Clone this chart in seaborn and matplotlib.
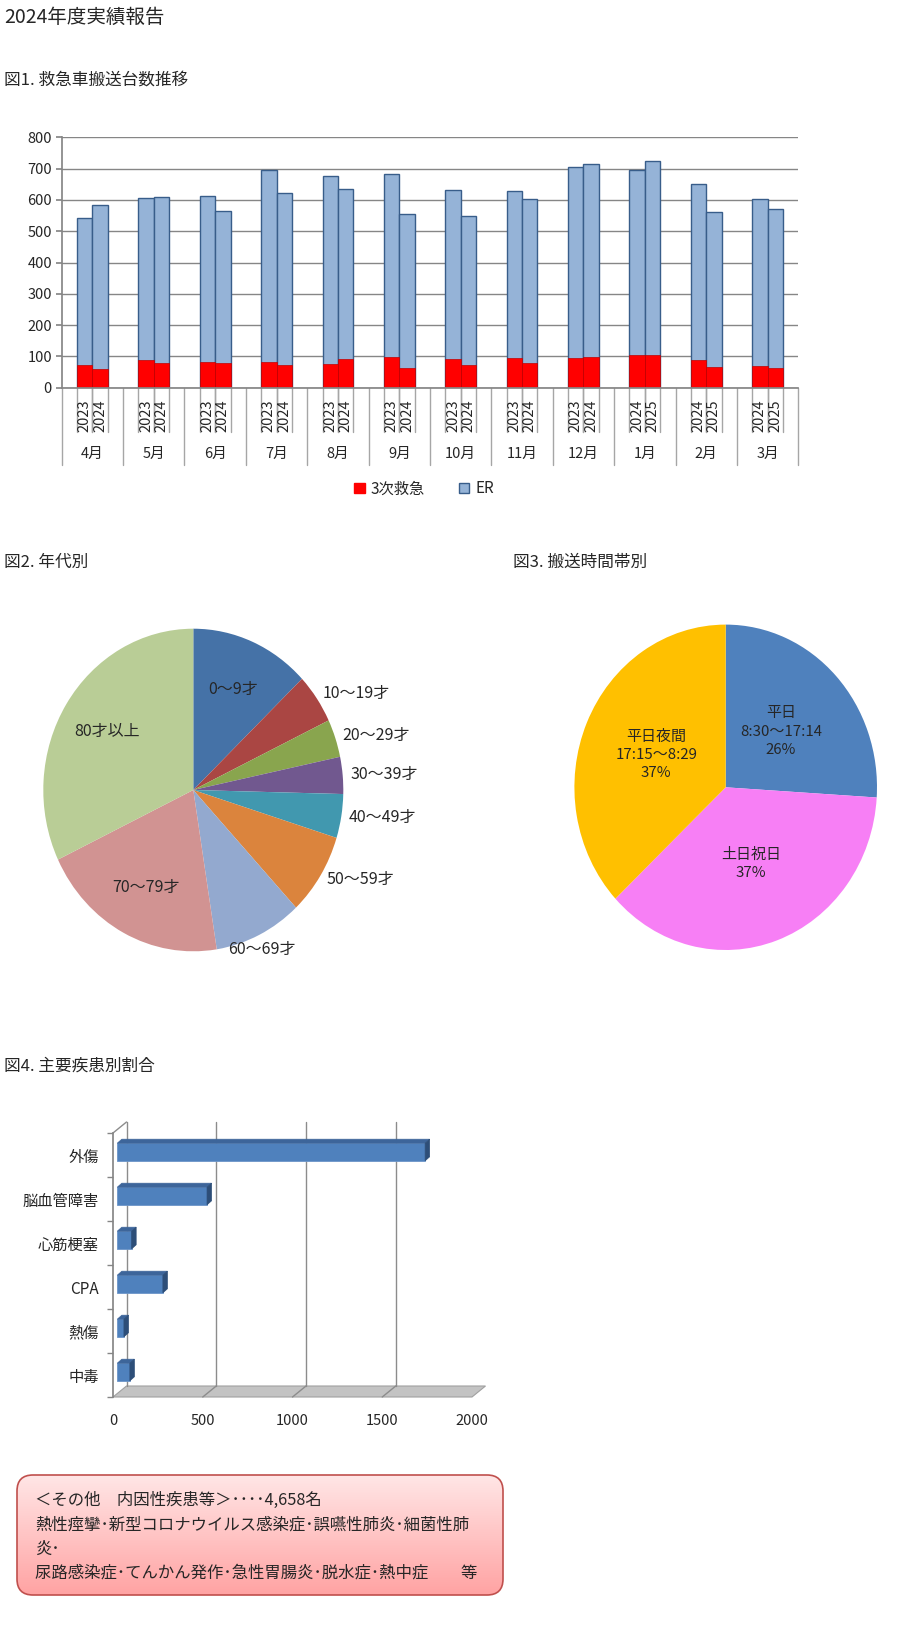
import numpy as np
import pandas as pd
import matplotlib
matplotlib.use('Agg')
import matplotlib.pyplot as plt
import matplotlib.transforms as mtransforms
from matplotlib.patches import Patch, Polygon, FancyBboxPatch
from matplotlib.colors import LinearSegmentedColormap
import seaborn as sns

# ---- データ ----
months = ['4月', '5月', '6月', '7月', '8月', '9月', '10月', '11月', '12月', '1月', '2月', '3月']
year_a = ['2023'] * 9 + ['2024'] * 3
year_b = ['2024'] * 9 + ['2025'] * 3
sanji_a = [72, 90, 81, 83, 75, 98, 91, 95, 95, 105, 90, 69]
sanji_b = [60, 78, 79, 72, 93, 64, 72, 78, 98, 105, 67, 62]
er_a = [470, 517, 531, 612, 602, 584, 542, 535, 611, 590, 562, 533]
er_b = [524, 532, 485, 551, 543, 490, 475, 525, 617, 620, 494, 509]

age_labels = ['0～9才', '10～19才', '20～29才', '30～39才', '40～49才',
              '50～59才', '60～69才', '70～79才', '80才以上']
age_pct = [12.9, 5.0, 3.8, 3.7, 4.4, 8.2, 9.5, 20.4, 32.1]
age_colors = ['#4572A7', '#AA4643', '#89A54E', '#71588F', '#4198AF',
              '#DB843D', '#93A9CF', '#D19392', '#B9CD96']
age_inside = ['0～9才', '70～79才', '80才以上']

time_labels = ['平日', '土日祝日', '平日夜間']
time_ranges = ['8:30～17:14', '', '17:15～8:29']
time_pct = [26, 37, 37]
time_colors = ['#4F81BD', '#F77FF5', '#FFC000']

disease_labels = ['外傷', '脳血管障害', '心筋梗塞', 'CPA', '熱傷', '中毒']
disease_counts = [1715, 500, 80, 254, 37, 70]

note_lines = ['＜その他　内因性疾患等＞････4,658名',
              '熱性痙攣･新型コロナウイルス感染症･誤嚥性肺炎･細菌性肺',
              '炎･',
              '尿路感染症･てんかん発作･急性胃腸炎･脱水症･熱中症　　等']

sns.set_theme(style='white')
plt.rcParams['font.family'] = ['Noto Sans CJK JP', 'DejaVu Sans']

W, H = 900, 1625
fig = plt.figure(figsize=(W / 100, H / 100), dpi=100)


def px_axes(left, top, right, bottom):
    return fig.add_axes([left / W, 1 - bottom / H, (right - left) / W, (bottom - top) / H])


def ptext(x, y, s, **kw):
    fig.text(x / W, 1 - y / H, s, **kw)


ptext(4, 17, '2024年度実績報告', fontsize=14, va='center')
ptext(4, 80, '図1. 救急車搬送台数推移', fontsize=12, va='center')
ptext(4, 562, '図2. 年代別', fontsize=12, va='center')
ptext(513, 562, '図3. 搬送時間帯別', fontsize=12, va='center')
ptext(4, 1066, '図4. 主要疾患別割合', fontsize=12, va='center')

# ---- 図1 積み上げ棒 ----
red = '#FF0000'
er_col = '#95B3D7'
df = pd.DataFrame({
    'month': months * 2,
    'slot': ['a'] * 12 + ['b'] * 12,
    'sanji': sanji_a + sanji_b,
    'er': er_a + er_b,
})
df['total'] = df['sanji'] + df['er']

top1, bot1 = 137.3, 387.7
ax1 = px_axes(61.7, top1, 798.3, bot1)
sns.barplot(data=df, x='month', y='total', hue='slot', order=months, hue_order=['a', 'b'],
            palette=[er_col, er_col], width=0.5, gap=0, saturation=1, errorbar=None,
            edgecolor='#385D8A', linewidth=1, legend=False, ax=ax1)
bars = sorted(ax1.patches, key=lambda p: p.get_x())
sns.barplot(data=df, x='month', y='sanji', hue='slot', order=months, hue_order=['a', 'b'],
            palette=[red, red], width=0.5, gap=0, saturation=1, errorbar=None,
            edgecolor='#C00000', linewidth=0.5, legend=False, ax=ax1)
ax1.set_xlim(-0.5, 11.5)
ax1.set_ylim(0, 800)
ax1.set_yticks(range(0, 801, 100))
ax1.set_xticks([])
ax1.set_xlabel('')
ax1.set_ylabel('')
ax1.grid(axis='y', color='#868686', linewidth=1)
ax1.set_axisbelow(True)
ax1.tick_params(axis='y', length=4, color='#868686', labelsize=10.5, pad=3, left=True)
for s in ['top', 'right']:
    ax1.spines[s].set_visible(False)
for s in ['left', 'bottom']:
    ax1.spines[s].set_color('#868686')


def yfrac(ypix):
    return (bot1 - ypix) / (bot1 - top1)


tr1 = ax1.get_xaxis_transform()
yr_labels = []
for a, b in zip(year_a, year_b):
    yr_labels += [a, b]
for p, lab in zip(bars, yr_labels):
    cx = p.get_x() + p.get_width() / 2
    ax1.text(cx, yfrac(399), lab, rotation=90, ha='center', va='top', fontsize=10.5, transform=tr1)
    for ex in [p.get_x(), p.get_x() + p.get_width()]:
        ax1.plot([ex, ex], [0, yfrac(432)], color='#A6A6A6', lw=1, transform=tr1, clip_on=False)
for i in range(13):
    ax1.plot([i - 0.5, i - 0.5], [0, yfrac(465)], color='#A6A6A6', lw=1, transform=tr1, clip_on=False)
for i, m in enumerate(months):
    ax1.text(i, yfrac(454), m, ha='center', va='center', fontsize=10.5, transform=tr1)

handles = [Patch(facecolor=red, edgecolor=red), Patch(facecolor=er_col, edgecolor='#385D8A')]
fig.legend(handles, ['3次救急', 'ER'], loc='center', bbox_to_anchor=(424 / W, 1 - 489 / H),
           ncol=2, frameon=False, fontsize=11, handlelength=0.7, handleheight=0.7,
           handletextpad=0.4, columnspacing=2.2)

# ---- 図2 年代別 ----
ax2 = px_axes(43.3, 628.7, 343.3, 951.3)
wedges, _ = ax2.pie(age_pct, colors=age_colors, startangle=90, counterclock=False,
                    wedgeprops=dict(linewidth=0))
ax2.set_aspect('auto')
ax2.set_xlim(-1, 1)
ax2.set_ylim(-1, 1)
for w, lab in zip(wedges, age_labels):
    ang = np.deg2rad((w.theta1 + w.theta2) / 2)
    c, s = np.cos(ang), np.sin(ang)
    if lab in age_inside:
        ax2.text(0.68 * c, 0.68 * s, lab, ha='center', va='center', fontsize=11.5)
    elif s < -0.8:
        ax2.text(1.04 * c, 1.04 * s, lab, ha='center', va='top', fontsize=11.5)
    else:
        ax2.text(1.05 * c, 1.05 * s, lab, ha='left', va='center', fontsize=11.5)

# ---- 図3 搬送時間帯別 ----
ax3 = px_axes(574.4, 624.6, 877, 950)
wedges3, _ = ax3.pie(time_pct, colors=time_colors, startangle=90, counterclock=False,
                     wedgeprops=dict(linewidth=0))
ax3.set_aspect('auto')
ax3.set_xlim(-1, 1)
ax3.set_ylim(-1, 1)
for w, lab, rng, pct in zip(wedges3, time_labels, time_ranges, time_pct):
    ang = np.deg2rad((w.theta1 + w.theta2) / 2)
    txt = lab + ('\n' + rng if rng else '') + f'\n{pct}%'
    ax3.text(0.5 * np.cos(ang), 0.5 * np.sin(ang), txt, ha='center', va='center',
             multialignment='center', linespacing=1.4, fontsize=10.8)

# ---- 図4 主要疾患 (3D風横棒) ----
ax4 = px_axes(113, 1133, 472, 1397)
sns.barplot(x=disease_counts, y=disease_labels, orient='h', color='#4F81BD', saturation=1,
            width=0.4, errorbar=None, edgecolor='#6C95C8', linewidth=0.6, ax=ax4, zorder=3)
ax4.set_xlim(0, 2000)
ax4.set_ylim(5.5, -0.5)
ax4.set_xticks([0, 500, 1000, 1500, 2000])
ax4.set_yticks(range(len(disease_labels)))
ax4.set_yticklabels(disease_labels)
ax4.set_yticks(np.arange(-0.5, len(disease_labels)), minor=True)
ax4.tick_params(axis='y', which='major', length=0, pad=10, labelsize=11)
ax4.tick_params(axis='y', which='minor', length=4, color='#868686', left=True)
ax4.tick_params(axis='x', length=0, pad=12, labelsize=10.5)
ax4.set_xlabel('')
ax4.set_ylabel('')
for s in ['top', 'right', 'bottom']:
    ax4.spines[s].set_visible(False)
ax4.spines['left'].set_color('#868686')

ident = mtransforms.IdentityTransform()
back = (13.5, 11)
depth = (4.5, 4)


def disp(x, y, off=(0, 0)):
    px, py = ax4.transData.transform((x, y))
    return (px + off[0], py + off[1])


floor = [disp(0, 5.5), disp(2000, 5.5), disp(2000, 5.5, back), disp(0, 5.5, back)]
ax4.add_patch(Polygon(floor, closed=True, facecolor='#C3C3C3', edgecolor='#A0A0A0', lw=0.8,
                      transform=ident, clip_on=False, zorder=1))
for v in [500, 1000, 1500]:
    p0, p1 = disp(v, 5.5), disp(v, 5.5, back)
    ax4.plot([p0[0], p1[0]], [p0[1], p1[1]], color='#8C8C8C', lw=1, transform=ident,
             clip_on=False, zorder=1.5)
for v in [0, 500, 1000, 1500]:
    p0, p1 = disp(v, 5.5, back), disp(v, -0.5, back)
    ax4.plot([p0[0], p1[0]], [p0[1], p1[1]], color='#8C8C8C', lw=1, transform=ident,
             clip_on=False, zorder=1.5)
p0, p1 = disp(0, -0.5), disp(0, -0.5, back)
ax4.plot([p0[0], p1[0]], [p0[1], p1[1]], color='#8C8C8C', lw=1, transform=ident,
         clip_on=False, zorder=1.5)

mid_tr = mtransforms.offset_copy(ax4.transData, fig=fig, x=4.3, y=3, units='dots')
for p in list(ax4.patches):
    if isinstance(p, Polygon):
        continue
    p.set_transform(mid_tr)
    bb = p.get_window_extent()
    x0, x1, y0, y1 = bb.x0, bb.x1, bb.y0, bb.y1
    dx, dy = depth
    top_face = [(x0, y1), (x1, y1), (x1 + dx, y1 + dy), (x0 + dx, y1 + dy)]
    side_face = [(x1, y0), (x1, y1), (x1 + dx, y1 + dy), (x1 + dx, y0 + dy)]
    ax4.add_patch(Polygon(top_face, closed=True, facecolor='#3D659A', edgecolor='#3D659A',
                          lw=0.5, transform=ident, clip_on=False, zorder=3))
    ax4.add_patch(Polygon(side_face, closed=True, facecolor='#2D4E78', edgecolor='#2D4E78',
                          lw=0.5, transform=ident, clip_on=False, zorder=3))

# ---- 注記ボックス ----
ov = fig.add_axes([0, 0, 1, 1])
ov.set_axis_off()
bx0, by0, bx1, by1 = 17, 1475, 503, 1595
box = FancyBboxPatch((bx0, by0), bx1 - bx0, by1 - by0,
                     boxstyle='round,pad=0,rounding_size=16',
                     facecolor='none', edgecolor='#C0504D', lw=1.2, zorder=3)
ov.add_patch(box)
grad = np.linspace(0, 1, 200).reshape(-1, 1)
cmap = LinearSegmentedColormap.from_list('pinkgrad', ['#FFE6E6', '#FFA3A3'])
im = ov.imshow(grad, extent=(bx0, bx1, by1, by0), cmap=cmap, aspect='auto', origin='upper', zorder=1)
im.set_clip_path(box)
ov.set_xlim(0, W)
ov.set_ylim(H, 0)
line_y = [1500, 1525, 1549, 1573]
for y, line in zip(line_y, note_lines):
    ov.text(35, y, line, fontsize=11.8, va='center', ha='left', zorder=4)

fig.savefig('out.png', dpi=100)
